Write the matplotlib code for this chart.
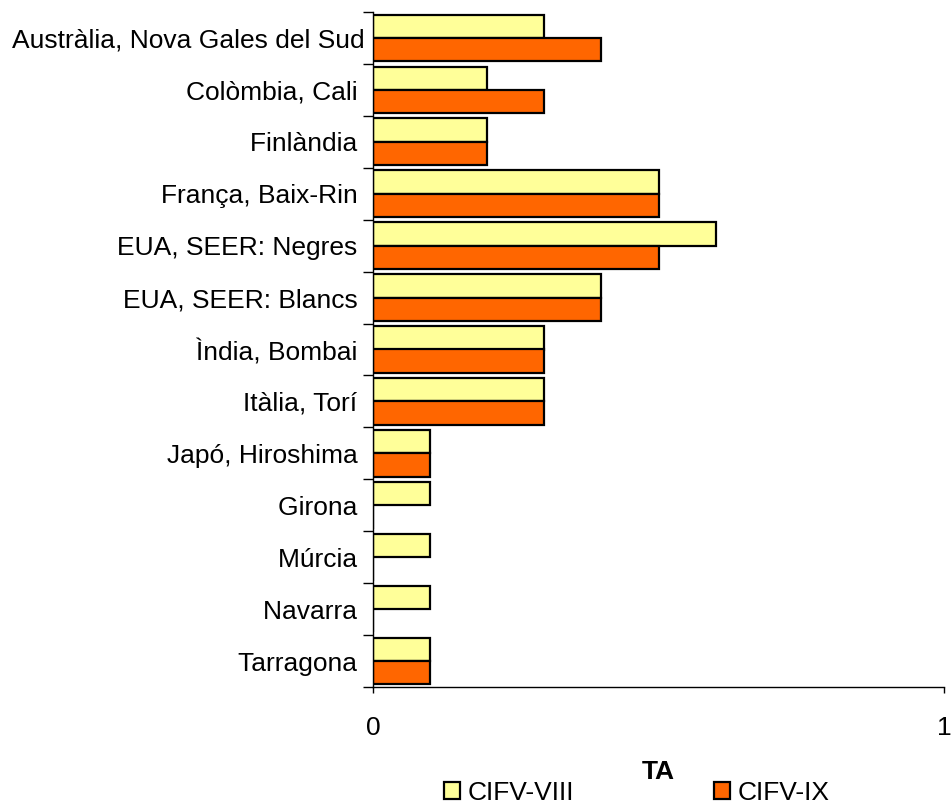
import numpy as np
import matplotlib
matplotlib.use("Agg")
from matplotlib import pyplot as plt
from matplotlib.ticker import FixedLocator, NullFormatter

plt.rcParams['font.family'] = ['Liberation Sans', 'DejaVu Sans']

categories = ["Austràlia, Nova Gales del Sud", "Colòmbia, Cali ", "Finlàndia ",
              "França, Baix-Rin ", "EUA, SEER: Negres ", "EUA, SEER: Blancs ",
              "Ìndia, Bombai ", "Itàlia, Torí ", "Japó, Hiroshima ", "Girona ",
              "Múrcia ", "Navarra ", "Tarragona "]
cifv_viii = [0.3, 0.2, 0.2, 0.5, 0.6, 0.4, 0.3, 0.3, 0.1, 0.1, 0.1, 0.1, 0.1]
cifv_ix = [0.4, 0.3, 0.2, 0.5, 0.5, 0.4, 0.3, 0.3, 0.1, 0.0, 0.0, 0.0, 0.1]
series_names = ["CIFV-VIII", "CIFV-IX"]

YELLOW = "#FFFF99"
ORANGE = "#FF6600"
FS = 19

fig = plt.figure(figsize=(9.53, 8.05), dpi=100)
ax = fig.add_axes([373/953, 1-687/805, (944-373)/953, (687-12)/805])

y = np.arange(len(categories))
h = 0.45
b1 = ax.barh(y - h/2, cifv_viii, height=h, color=YELLOW, edgecolor="black", linewidth=1.6, label=series_names[0])
b2 = ax.barh(y + h/2, cifv_ix, height=h, color=ORANGE, edgecolor="black", linewidth=1.6, label=series_names[1])

ax.set_ylim(len(categories) - 0.5, -0.5)
ax.set_xlim(0, 1)
ax.set_yticks(y)
ax.set_yticklabels(categories, fontsize=FS)
ax.tick_params(axis='y', which='major', length=0, pad=6)
ax.yaxis.set_minor_locator(FixedLocator(np.arange(-0.5, len(categories), 1)))
ax.yaxis.set_minor_formatter(NullFormatter())
ax.tick_params(axis='y', which='minor', length=7, width=1)

ax.set_xticks([0, 1])
ax.set_xticklabels(["0", "1"], fontsize=FS)
ax.tick_params(axis='x', length=4, width=1, pad=17)
ax.set_xlabel("TA", fontsize=FS, fontweight='bold', labelpad=14)

for s in ["top", "right"]:
    ax.spines[s].set_visible(False)
for s in ["left", "bottom"]:
    ax.spines[s].set_linewidth(1)

fig.legend(handles=[b1, b2], labels=series_names, loc='center',
           bbox_to_anchor=(637/953, 1-793/805), ncol=2, frameon=False,
           fontsize=FS, columnspacing=5.3, handlelength=0.6, handleheight=0.6,
           handletextpad=0.3, borderaxespad=0)

fig.savefig("out.png", dpi=100)
